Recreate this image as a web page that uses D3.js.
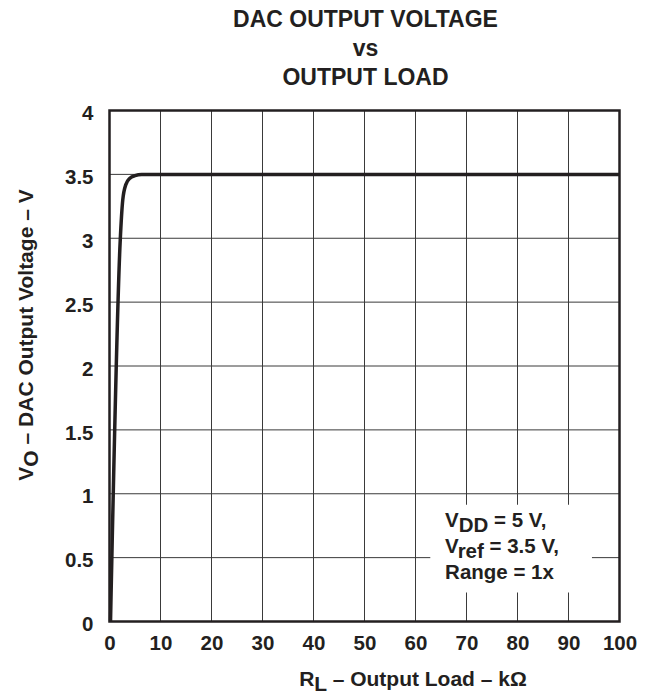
<!DOCTYPE html>
<html>
<head>
<meta charset="utf-8">
<script src="https://cdn.jsdelivr.net/npm/d3@7"></script>
<style>
  body { margin: 0; background: #fff; }
  text { font-family: 'Liberation Sans', Arial, sans-serif; font-weight: bold; fill: #231f20; }
</style>
</head>
<body>
<div id="chart"></div>
<script>
// curve
const loadK = [0.2, 2.1, 2.6, 3.2, 4, 5, 6.3, 100]
const voltage = [0, 2.98, 3.3, 3.42, 3.47, 3.49, 3.5, 3.5]

const xTicks = [0, 10, 20, 30, 40, 50, 60, 70, 80, 90, 100]
const yTicks = [0, 0.5, 1, 1.5, 2, 2.5, 3, 3.5, 4]
const titleLines = ['DAC OUTPUT VOLTAGE', 'vs', 'OUTPUT LOAD']

const margin = { top: 110.5, left: 109.5, right: 32.5, bottom: 72.5 }
const width = 652 - margin.left - margin.right
const height = 694 - margin.top - margin.bottom

const svg = d3
  .select('#chart')
  .append('svg')
  .attr('width', 652)
  .attr('height', 694)

const g = svg.append('g')
  .attr('transform', 'translate(' + margin.left + ',' + margin.top + ')')

const x = d3.scaleLinear().domain([0, 100]).range([0, width])
const y = d3.scaleLinear().domain([0, 4]).range([height, 0])

// grid
g.selectAll('.vgrid')
  .data(xTicks)
  .enter()
  .append('line')
  .attr('x1', d => x(d)).attr('x2', d => x(d))
  .attr('y1', 0).attr('y2', height)
  .attr('stroke', '#3a3a3a')
  .attr('stroke-width', 1)

g.selectAll('.hgrid')
  .data(yTicks)
  .enter()
  .append('line')
  .attr('x1', 0).attr('x2', width)
  .attr('y1', d => y(d)).attr('y2', d => y(d))
  .attr('stroke', '#3a3a3a')
  .attr('stroke-width', 1)

// annotation box blanks out the grid
g.append('rect')
  .attr('x', x(62.9))
  .attr('y', y(0.914))
  .attr('width', x(94.6) - x(62.9))
  .attr('height', y(0.227) - y(0.914))
  .attr('fill', '#fff')

const note = g.append('text')
  .attr('font-size', 20.5)
note.append('tspan').attr('x', x(65.8)).attr('y', y(0.74)).text('V')
note.append('tspan').attr('dy', 5).text('DD')
note.append('tspan').attr('dy', -5).text(' = 5 V,')
note.append('tspan').attr('x', x(65.8)).attr('y', y(0.54)).text('V')
note.append('tspan').attr('dy', 5).text('ref')
note.append('tspan').attr('dy', -5).text(' = 3.5 V,')
note.append('tspan').attr('x', x(65.8)).attr('y', y(0.33)).text('Range = 1x')

// border
g.append('rect')
  .attr('x', 0).attr('y', 0)
  .attr('width', width).attr('height', height)
  .attr('fill', 'none')
  .attr('stroke', '#231f20')
  .attr('stroke-width', 2.5)

// data line
const points = loadK.map((d, i) => [d, voltage[i]])
const line = d3.line()
  .x(d => x(d[0]))
  .y(d => y(d[1]))
  .curve(d3.curveMonotoneX)

g.append('path')
  .datum(points)
  .attr('d', line)
  .attr('fill', 'none')
  .attr('stroke', '#231f20')
  .attr('stroke-width', 3.5)

/* axes labels */
const xAxis = d3.axisBottom(x).tickValues(xTicks).tickSize(0).tickPadding(14)
g.append('g')
  .attr('class', 'axis x-axis')
  .attr('transform', 'translate(0,' + height + ')')
  .call(xAxis)
  .call(s => s.select('.domain').remove())
  .selectAll('text')
  .attr('font-size', 20.5)

const yAxis = d3.axisLeft(y).tickValues(yTicks).tickSize(0).tickPadding(16)
  .tickFormat(d => d)
g.append('g')
  .attr('class', 'axis y-axis')
  .call(yAxis)
  .call(s => s.select('.domain').remove())
  .selectAll('text')
  .attr('font-size', 20.5)
  .attr('dy', '0.45em')

svg.selectAll('.axis').attr('font-family', null).attr('font-size', null)

// titles
svg.selectAll('.title')
  .data(titleLines)
  .enter()
  .append('text')
  .attr('x', 365.5)
  .attr('y', (d, i) => 27 + i * 29)
  .attr('text-anchor', 'middle')
  .attr('font-size', 23)
  .text(d => d)

const xt = svg.append('text')
  .attr('x', 413)
  .attr('y', 686)
  .attr('text-anchor', 'middle')
  .attr('font-size', 21)
xt.append('tspan').text('R')
xt.append('tspan').attr('dy', 5).text('L')
xt.append('tspan').attr('dy', -5).text(' – Output Load – kΩ')

const yt = svg.append('text')
  .attr('transform', 'translate(33,335) rotate(-90)')
  .attr('text-anchor', 'middle')
  .attr('font-size', 21)
yt.append('tspan').text('V')
yt.append('tspan').attr('dy', 5).text('O')
yt.append('tspan').attr('dy', -5).text(' – DAC Output Voltage – V')
</script>
</body>
</html>
